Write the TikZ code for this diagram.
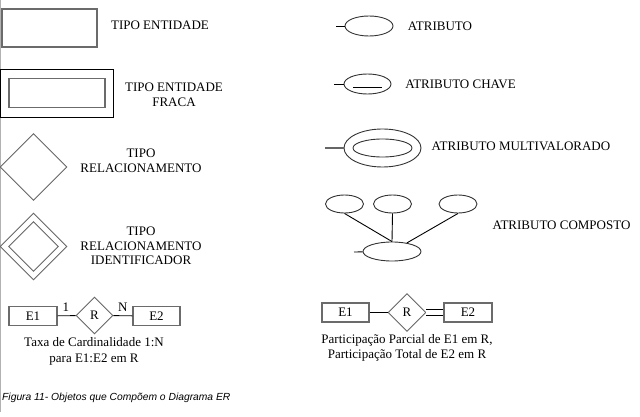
\documentclass[tikz,border=0pt]{standalone}
\usepackage{fontspec}
\setmainfont{Liberation Serif}
\newfontfamily\legendafont{Liberation Sans}
\usetikzlibrary{shapes.geometric,calc}

\tikzset{
  txt/.style={font=\fontsize{13}{14.5}\selectfont},
  rotulo/.style={txt, align=center, inner sep=0pt},
  ent/.style={txt, draw=black!58, line width=1.3pt, inner sep=0pt, minimum height=#1},
  ent/.default=19pt,
  rel/.style={txt, diamond, draw=black!60, line width=0.9pt, inner sep=0pt, aspect=1, minimum size=#1},
  atr/.style={ellipse, draw=black!80, line width=0.9pt, inner sep=0pt},
  liga/.style={line width=0.9pt}
}

\begin{document}
\begin{tikzpicture}[x=1pt,y=-1pt]
\useasboundingbox (0,0) rectangle (640,417);
\draw[black!30, line width=1pt] (0.5,0) -- (0.5,412);

% coluna da esquerda
\node[ent=38pt, minimum width=95pt] (entidade) at (49.5,28) {};
\node[rotulo] (lEntidade) at (160,25) {TIPO ENTIDADE};

\node[draw=black, line width=0.9pt, minimum width=113pt, minimum height=48pt, inner sep=0pt] (fracaExt) at (57,93) {};
\node[ent=29pt, minimum width=96pt] (fracaInt) at (fracaExt.center) {};
\node[rotulo] (lFraca) at (174,95) {TIPO ENTIDADE\\FRACA};

\node[rel=67pt] (relac) at (33.5,167) {};
\node[rotulo] (lRelac) at (141,161) {TIPO\\RELACIONAMENTO};

\node[rel=67pt] (identExt) at (33.5,246.5) {};
\node[rel=50pt] (identInt) at (identExt.center) {};
\node[rotulo] (lIdent) at (141,246) {TIPO\\RELACIONAMENTO\\IDENTIFICADOR};

\node[ent, minimum width=48pt] (E1a) at (33,316) {E1};
\node[rel=37pt] (Ra) at (94.5,315.5) {R};
\node[ent, minimum width=47pt] (E2a) at (156.5,316) {E2};
\draw[liga] (E1a) -- node[txt, above, inner sep=4pt, pos=0.45] {1} (Ra);
\draw[liga] (Ra) -- node[txt, above, inner sep=4pt, pos=0.5] {N} (E2a);
\node[rotulo] (lTaxa) at (94,351) {Taxa de Cardinalidade 1:N\\[1.5pt]para E1:E2 em R};

\node[anchor=west, inner sep=0pt, font=\legendafont\itshape\fontsize{10.3}{12}\selectfont] (legenda) at (2,398) {Figura 11- Objetos que Compõem o Diagrama ER};

% coluna da direita
\node[atr, minimum width=48pt, minimum height=20pt] (atributo) at (369,26) {};
\coordinate (pAtributo) at (336,26);
\draw[liga] (pAtributo) -- (atributo);
\node[rotulo] (lAtributo) at (440,26) {ATRIBUTO};

\node[atr, minimum width=47pt, minimum height=20pt] (chave) at (367.5,84) {};
\coordinate (pChave) at (334,84);
\draw[liga] (pChave) -- (chave);
\draw[liga] ($(chave.center)+(-14.5,3)$) -- ($(chave.center)+(14.5,3)$);
\node[rotulo] (lChave) at (460.5,84) {ATRIBUTO CHAVE};

\node[atr, minimum width=77pt, minimum height=38pt] (multiExt) at (382.5,148) {};
\node[atr, minimum width=59pt, minimum height=18pt] (multiInt) at (multiExt.center) {};
\coordinate (pMulti) at (325,148);
\draw[black!60, line width=1.3pt] (pMulti) -- (multiExt);
\node[rotulo] (lMulti) at (521,146) {ATRIBUTO MULTIVALORADO};

\foreach \n/\x in {c1/344.5, c2/392.5, c3/458}
  \node[atr, minimum width=38pt, minimum height=18pt] (\n) at (\x,204) {};
\node[atr, minimum width=58pt, minimum height=19pt] (composto) at (392,251.5) {};
\draw[liga] (c1.south) -- (composto.north);
\draw[liga] (c2.south) -- (composto.north);
\draw[liga] (c3.south) -- (composto);
\coordinate (pComposto) at (354,252);
\draw[liga] (pComposto) -- (composto);
\node[rotulo] (lComposto) at (561.5,225) {ATRIBUTO COMPOSTO};

\node[ent, minimum width=47pt] (E1b) at (345.5,312.5) {E1};
\node[rel=38pt] (Rb) at (407,312.5) {R};
\node[ent, minimum width=48pt] (E2b) at (468,312.5) {E2};
\draw[liga] (E1b) -- (Rb);
\draw[line width=0.9pt, double, double distance=5pt] (Rb.east) -- (E2b.west);
\node[rotulo] (lPart) at (407,348) {Participação Parcial de E1 em R,\\Participação Total de E2 em R};
\end{tikzpicture}
\end{document}
